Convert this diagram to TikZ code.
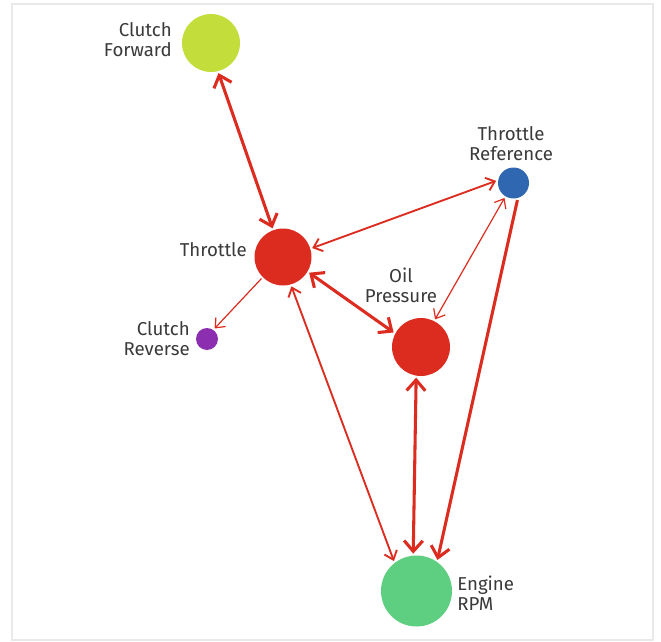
\documentclass[tikz,border=0pt]{standalone}
\usepackage{fontspec}
\setmainfont{Fira Sans}
\usetikzlibrary{arrows.meta}
\definecolor{linkred}{HTML}{DC2C1F}
\definecolor{fwdgreen}{HTML}{C3DE3A}
\definecolor{refblue}{HTML}{2F68B0}
\definecolor{revpurple}{HTML}{8B2FB0}
\definecolor{rpmgreen}{HTML}{5ECE80}
\definecolor{labelgray}{HTML}{3A3A3A}
\definecolor{framegray}{HTML}{E9E9E9}
\tikzset{
    bigtip/.tip={Straight Barb[length=8pt,width=14pt]},
    smalltip/.tip={Straight Barb[length=6pt,width=10pt]}
}
\begin{document}
\begin{tikzpicture}[x=0.75pt,y=-0.75pt,
        dot/.style={circle,inner sep=0pt,outer sep=1.5pt},
        lbl/.style={inner sep=0pt,text=labelgray,font=\fontsize{14}{15}\selectfont},
        heavy/.style={draw=linkred,line width=2.3pt,bigtip-bigtip},
        medium/.style={draw=linkred,line width=1.4pt,smalltip-smalltip},
        light/.style={draw=linkred,line width=0.9pt,smalltip-smalltip}]
        % page and frame
        \fill[white] (0,0) rectangle (661,642);
        \draw[framegray,line width=2pt] (12,4) rectangle (653,640);
        % signals
        \node[dot,fill=fwdgreen,minimum size=43.5pt] (fwd) at (211,43) {};
        \node[dot,fill=linkred,minimum size=42.75pt] (thr) at (283,257) {};
        \node[dot,fill=refblue,minimum size=23.25pt] (ref) at (513.5,183) {};
        \node[dot,fill=linkred,minimum size=43.5pt] (oil) at (421,347) {};
        \node[dot,fill=revpurple,minimum size=16.5pt] (rev) at (207,339) {};
        \node[dot,fill=rpmgreen,minimum size=53.25pt] (rpm) at (416.5,591) {};
        % names
        \node[lbl,anchor=east,align=right] (fwdname) at (172,40) {Clutch\\Forward};
        \node[lbl,anchor=east] (thrname) at (247,250) {Throttle};
        \node[lbl,align=center] (refname) at (511,144) {Throttle\\Reference};
        \node[lbl,align=center] (oilname) at (401,285) {Oil\\Pressure};
        \node[lbl,anchor=east,align=right] (revname) at (190,339) {Clutch\\Reverse};
        \node[lbl,anchor=west,align=left] (rpmname) at (457,593) {Engine\\RPM};
        % links
        \draw[heavy] (fwd.-76) -- (thr.110);
        \draw[medium] (thr.17) -- (ref.173);
        \draw[light,-smalltip] (thr.225) -- (rev.54);
        \draw[heavy] (thr.-31) -- (oil.152);
        \draw[light] (ref.239) -- (oil.63);
        \draw[medium] (thr.-74) -- (rpm.127);
        \draw[heavy] (oil.-99) -- (rpm.95);
        \draw[heavy,-bigtip] (ref.-77) -- (rpm.56);
\end{tikzpicture}
\end{document}
